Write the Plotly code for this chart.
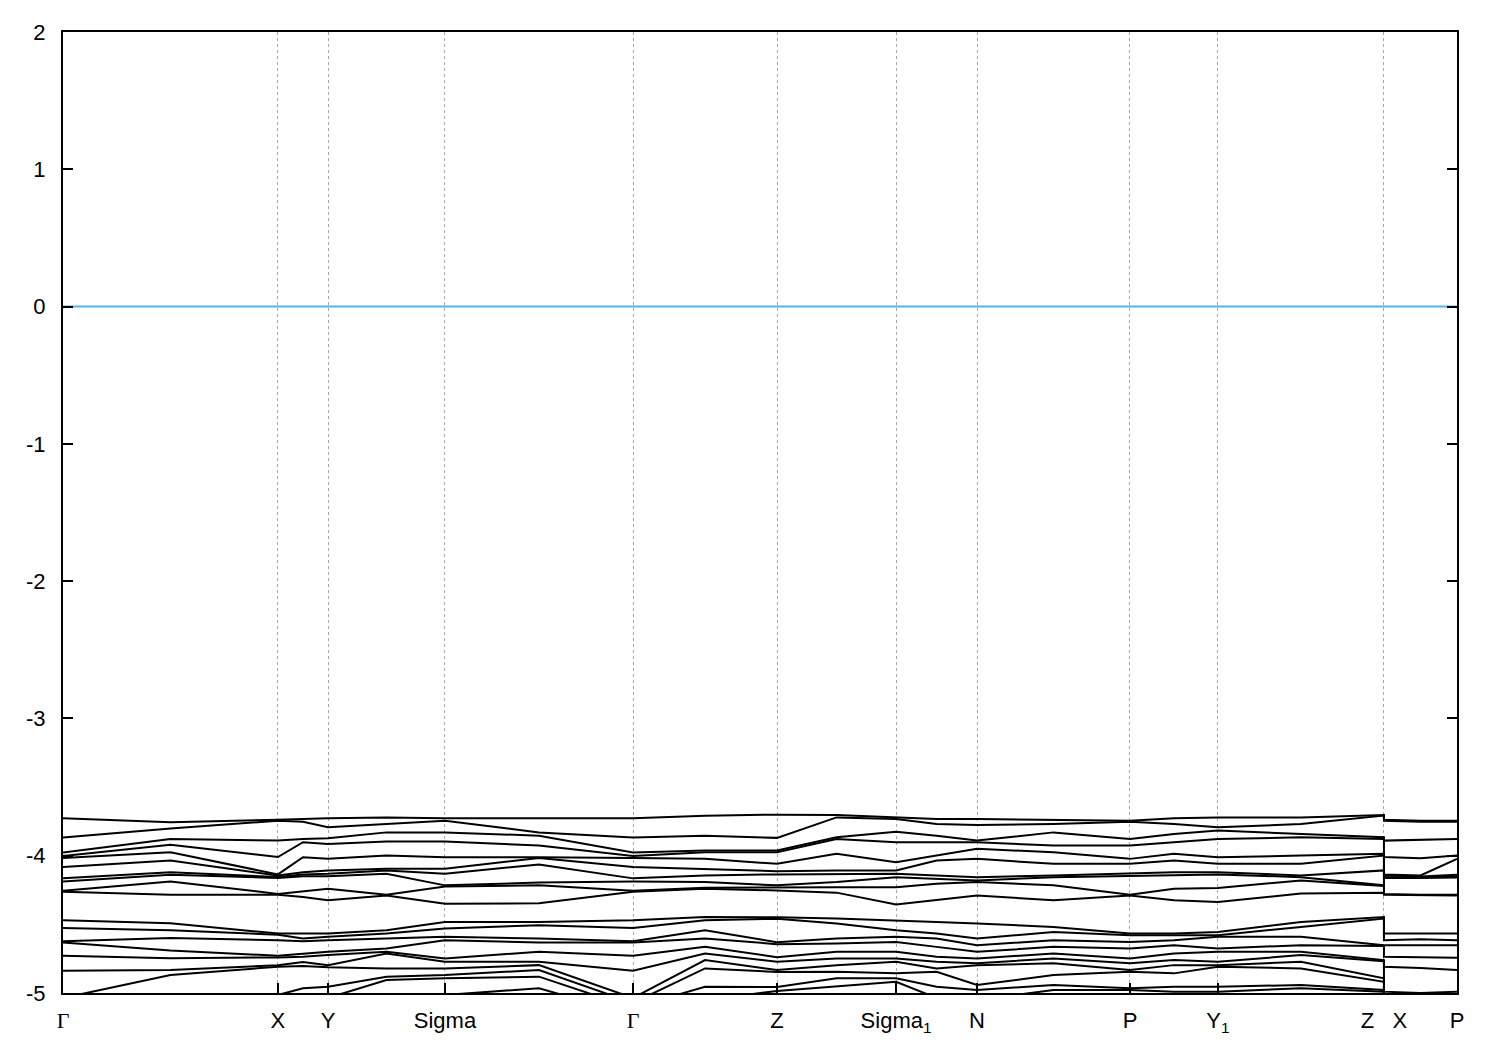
import plotly.graph_objects as go

# High-symmetry path (positions along the k-path, normalised) and labels
node_k = [0.0, 0.1542, 0.1901, 0.2740, 0.4089, 0.5122, 0.5976, 0.6557, 0.7654, 0.8285, 0.9476, 1.0]
node_labels = ["<span style='font-family:Liberation Serif'>Γ</span>", "X", "Y", "Sigma",
               "<span style='font-family:Liberation Serif'>Γ</span>", "Z", "Sigma<sub>1</sub>", "N", "P",
               "Y<sub>1</sub>", "Z\u00a0\u00a0\u00a0X", "P"]

y_tick_vals = [-5, -4, -3, -2, -1, 0, 1, 2]
y_tick_text = ["-5", "-4", "-3", "-2", "-1", "0", "1", "2"]
fermi_level = 0.0

# Band energies (eV), sampled at each node and segment midpoint:
# G m X m Y m S m G m Z m S1 m N m P m Y1 m Z | X m P
upper_1 = [-3.727, -3.757, -3.738, -3.732, -3.728, -3.721, -3.728, -3.728, -3.727, -3.708, -3.701, -3.703,
           -3.721, -3.732, -3.732, -3.738, -3.745, -3.728, -3.721, -3.721, -3.703, -3.738, -3.745, -3.745]
upper_2 = [-3.868, -3.801, -3.745, -3.752, -3.793, -3.769, -3.745, -3.830, -3.868, -3.854, -3.870, -3.721,
           -3.732, -3.769, -3.776, -3.769, -3.752, -3.769, -3.793, -3.769, -3.708, -3.745, -3.752, -3.752]
upper_3 = [-3.977, -3.878, -3.890, -3.878, -3.873, -3.830, -3.830, -3.854, -3.977, -3.962, -3.962, -3.866,
           -3.825, -3.854, -3.890, -3.830, -3.878, -3.841, -3.817, -3.841, -3.866, -3.890, -3.883, -3.878]
upper_4 = [-4.002, -3.921, -4.010, -3.902, -3.914, -3.897, -3.897, -3.926, -4.002, -3.975, -3.975, -3.878,
           -3.902, -3.902, -3.902, -3.926, -3.926, -3.902, -3.878, -3.866, -3.878, -4.010, -4.018, -3.999]
upper_5 = [-4.017, -3.975, -4.136, -4.011, -4.023, -3.999, -4.011, -4.011, -4.017, -4.023, -4.059, -3.986,
           -4.047, -3.999, -3.950, -3.975, -4.023, -3.986, -4.011, -3.999, -3.986, -4.136, -4.144, -4.023]
upper_6 = [-4.082, -4.035, -4.144, -4.120, -4.107, -4.095, -4.095, -4.017, -4.082, -4.095, -4.113, -4.107,
           -4.107, -4.035, -4.023, -4.059, -4.059, -4.035, -4.059, -4.059, -3.999, -4.144, -4.151, -4.139]
upper_7 = [-4.165, -4.120, -4.155, -4.136, -4.131, -4.107, -4.131, -4.064, -4.165, -4.144, -4.136, -4.131,
           -4.131, -4.144, -4.156, -4.144, -4.131, -4.120, -4.120, -4.144, -4.107, -4.155, -4.156, -4.151]
upper_8 = [-4.187, -4.139, -4.162, -4.149, -4.149, -4.131, -4.216, -4.195, -4.187, -4.192, -4.216, -4.192,
           -4.156, -4.168, -4.180, -4.156, -4.149, -4.144, -4.136, -4.156, -4.216, -4.162, -4.163, -4.158]
upper_9 = [-4.256, -4.187, -4.278, -4.260, -4.240, -4.284, -4.224, -4.216, -4.256, -4.233, -4.229, -4.229,
           -4.229, -4.204, -4.192, -4.216, -4.284, -4.240, -4.236, -4.180, -4.220, -4.278, -4.284, -4.284]
upper_10 = [-4.263, -4.284, -4.285, -4.301, -4.325, -4.289, -4.349, -4.347, -4.263, -4.240, -4.253, -4.269,
            -4.356, -4.325, -4.289, -4.325, -4.289, -4.325, -4.337, -4.276, -4.269, -4.285, -4.289, -4.289]

lower_1 = [-4.470, -4.492, -4.567, -4.567, -4.567, -4.543, -4.483, -4.483, -4.470, -4.446, -4.448, -4.458,
           -4.470, -4.483, -4.494, -4.519, -4.567, -4.567, -4.555, -4.483, -4.446, -4.567, -4.567, -4.567]
lower_2 = [-4.526, -4.543, -4.575, -4.603, -4.591, -4.567, -4.530, -4.506, -4.526, -4.470, -4.459, -4.494,
           -4.543, -4.567, -4.603, -4.555, -4.579, -4.579, -4.579, -4.519, -4.458, -4.615, -4.608, -4.615]
lower_3 = [-4.623, -4.600, -4.615, -4.623, -4.615, -4.603, -4.591, -4.603, -4.623, -4.543, -4.630, -4.603,
           -4.591, -4.603, -4.652, -4.615, -4.628, -4.615, -4.591, -4.591, -4.652, -4.652, -4.652, -4.652]
lower_4 = [-4.632, -4.690, -4.729, -4.712, -4.700, -4.675, -4.615, -4.632, -4.632, -4.603, -4.644, -4.639,
           -4.628, -4.664, -4.700, -4.664, -4.675, -4.652, -4.675, -4.652, -4.657, -4.736, -4.739, -4.744]
lower_5 = [-4.729, -4.746, -4.741, -4.736, -4.724, -4.700, -4.748, -4.700, -4.729, -4.664, -4.739, -4.700,
           -4.700, -4.736, -4.748, -4.712, -4.748, -4.712, -4.700, -4.700, -4.760, -4.809, -4.818, -4.833]
lower_6 = [-4.838, -4.833, -4.797, -4.775, -4.797, -4.712, -4.773, -4.773, -4.838, -4.712, -4.773, -4.748,
           -4.748, -4.773, -4.784, -4.748, -4.784, -4.760, -4.773, -4.724, -4.768, -4.990, -5.000, -4.990]
lower_7 = [-5.036, -4.869, -4.809, -4.804, -4.813, -4.821, -4.821, -4.797, -5.036, -4.760, -4.833, -4.797,
           -4.773, -4.821, -4.797, -4.784, -4.833, -4.797, -4.797, -4.773, -4.893, -5.051, -5.051, -5.051]
lower_8 = [-5.072, -5.070, -5.014, -4.966, -4.954, -4.881, -4.869, -4.833, -5.072, -4.821, -4.847, -4.845,
           -4.857, -4.845, -4.942, -4.869, -4.845, -4.857, -4.809, -4.821, -4.918, -5.087, -5.087, -5.087]
lower_9 = [-5.109, -5.110, -5.065, -5.065, -5.036, -4.905, -4.893, -4.881, -5.109, -4.954, -4.956, -4.893,
           -4.893, -4.954, -4.978, -4.942, -4.966, -4.954, -4.954, -4.942, -4.978, -5.123, -5.123, -5.123]
lower_10 = [-5.159, -5.160, -5.109, -5.123, -5.094, -5.051, -5.014, -4.966, -5.159, -5.051, -4.985, -4.954,
            -4.918, -5.036, -5.051, -4.978, -4.978, -4.990, -4.990, -4.966, -4.990, -5.159, -5.159, -5.159]

bands = [upper_1, upper_2, upper_3, upper_4, upper_5, upper_6, upper_7, upper_8, upper_9, upper_10,
         lower_1, lower_2, lower_3, lower_4, lower_5, lower_6, lower_7, lower_8, lower_9, lower_10]

# k sample positions: nodes and midpoints along G..Z, then jump to X and on to P
k = []
for i in range(10):
    k.append(node_k[i])
    k.append((node_k[i] + node_k[i + 1]) / 2)
k.append(node_k[10])
k.append(node_k[10])
k.append((node_k[10] + node_k[11]) / 2)
k.append(node_k[11])

fig = go.Figure()
fig.add_trace(go.Scatter(x=[node_k[0], node_k[-1]], y=[fermi_level, fermi_level], mode="lines",
                         line=dict(color="#56b4e9", width=2), showlegend=False, hoverinfo="skip"))
for b in bands:
    fig.add_trace(go.Scatter(x=k, y=b, mode="lines", line=dict(color="black", width=2),
                             showlegend=False))

font = dict(family="Liberation Sans, Arial, sans-serif", size=22, color="black")
fig.update_layout(
    width=1500, height=1050,
    margin=dict(l=55, r=51, t=19, b=65),
    paper_bgcolor="white", plot_bgcolor="white",
    font=font,
    xaxis=dict(range=[node_k[0], node_k[-1]], tickvals=node_k, ticktext=node_labels,
               ticks="inside", ticklen=10, tickwidth=1.5, tickcolor="black",
               showline=True, linecolor="black", linewidth=2, mirror=True,
               showgrid=True, gridcolor="#a8a8a8", gridwidth=1, griddash="3px,3px",
               zeroline=False, ticklabelstandoff=7, tickfont=font),
    yaxis=dict(range=[-5, 2], tickvals=y_tick_vals, ticktext=y_tick_text,
               ticks="inside", ticklen=10, tickwidth=1.5, tickcolor="black",
               showline=True, linecolor="black", linewidth=2, mirror="ticks",
               showgrid=False, zeroline=False, ticklabelstandoff=11, tickfont=font),
)

fig.write_html("out.html")
